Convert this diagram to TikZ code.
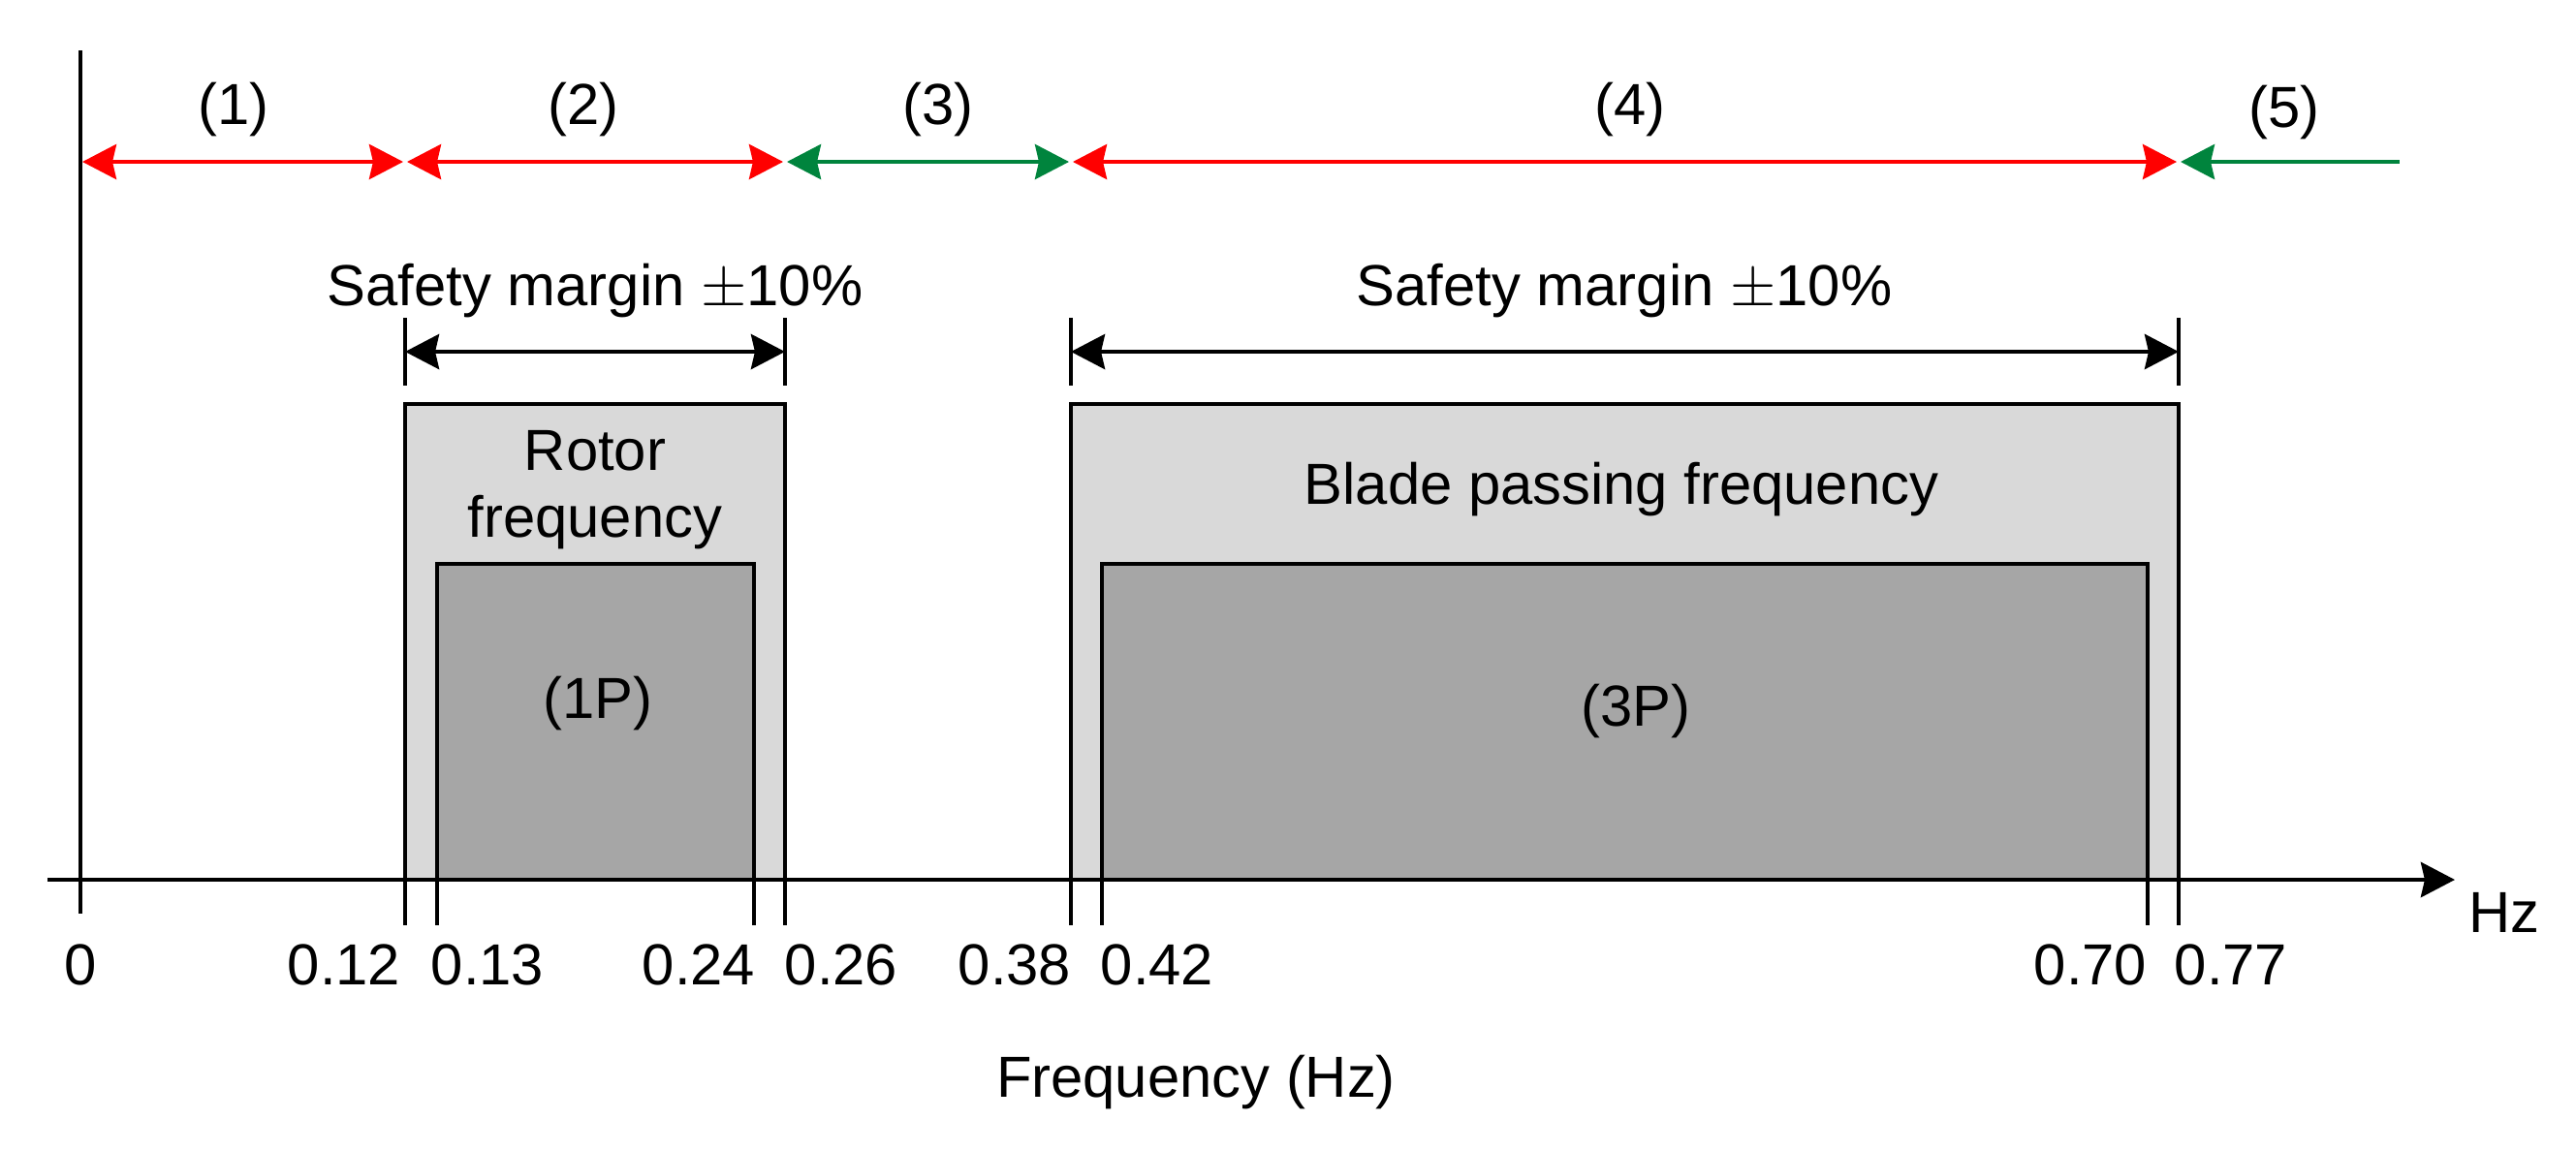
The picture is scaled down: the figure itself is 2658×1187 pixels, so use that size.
\documentclass[tikz,border=0pt]{standalone}
\usepackage{fontspec}
\setmainfont{Liberation Sans}
\usetikzlibrary{positioning,arrows.meta}
\definecolor{bandred}{RGB}{255,0,0}
\definecolor{bandgreen}{RGB}{0,132,61}
\definecolor{marginfill}{RGB}{217,217,217}
\definecolor{corefill}{RGB}{166,166,166}
\tikzset{
  band/.style={line width=1.2pt,<->,shorten <=0.02cm,shorten >=0.02cm},
  dimline/.style={line width=1.3pt,<->},
  ticklin/.style={line width=0.9pt},
  marginbox/.style={draw=black,line width=1pt,fill=marginfill},
  corebox/.style={draw=black,line width=1pt,fill=corefill},
  lbl/.style={font=\fontsize{17}{19.6}\selectfont,inner sep=0pt}
}
\begin{document}
\begin{tikzpicture}[x=0.01cm,y=-0.01cm,line width=1pt,>={Stealth[length=0.35cm,width=0.36cm,inset=0.04cm]}]
	\useasboundingbox (0,0) rectangle (2658,1187);

		% the frequency marks on the axis
		\coordinate (t000) at (83,908);
		\coordinate (t012) at (418,908);
		\coordinate (t013) at (451,908);
		\coordinate (t024) at (778,908);
		\coordinate (t026) at (810,908);
		\coordinate (t038) at (1105,908);
		\coordinate (t042) at (1137,908);
		\coordinate (t070) at (2216,908);
		\coordinate (t077) at (2248,908);

		% the levels
		\coordinate (row) at (0,167);
		\coordinate (dimrow) at (0,363);
		\coordinate (dimtop) at (0,328);
		\coordinate (dimbot) at (0,398);
		\coordinate (outertop) at (0,417);
		\coordinate (innertop) at (0,582);
		\coordinate (tickend) at (0,955);

		% rotor frequency band with its margin
		\draw[marginbox] (t012) rectangle (t026 |- outertop);
		\draw[corebox] (t013) rectangle (t024 |- innertop);
		\node[lbl,align=center,anchor=base] (rotor) at (614,554) {Rotor\\frequency};
		\node[lbl] (onep) at (617,726) {(1P)};

		% blade passing frequency band with its margin
		\draw[marginbox] (t038) rectangle (t077 |- outertop);
		\draw[corebox] (t042) rectangle (t070 |- innertop);
		\node[lbl,anchor=base] (blade) at (1673,520) {Blade passing frequency};
		\node[lbl] (threep) at (1688,734) {(3P)};

		% the axes
		\coordinate (xstart) at (49,908);
		\coordinate (xend) at (2533,908);
		\coordinate (ytop) at (83,52);
		\coordinate (ybot) at (83,943);
		\draw[->,line width=1.4pt] (xstart) -- (xend);
		\draw[ticklin] (ytop) -- (ybot);
		\node[lbl,below right=0.12cm and 0.13cm of xend] (hz) {Hz};

		% ticks below the axis
		\draw[ticklin] (t012) -- (t012 |- tickend);
		\draw[ticklin] (t013) -- (t013 |- tickend);
		\draw[ticklin] (t024) -- (t024 |- tickend);
		\draw[ticklin] (t026) -- (t026 |- tickend);
		\draw[ticklin] (t038) -- (t038 |- tickend);
		\draw[ticklin] (t042) -- (t042 |- tickend);
		\draw[ticklin] (t070) -- (t070 |- tickend);
		\draw[ticklin] (t077) -- (t077 |- tickend);

		% tick values
		\node[lbl] (v000) at (83,996) {0};
		\node[lbl] (v012) at (355,996) {0.12};
		\node[lbl] (v013) at (503,996) {0.13};
		\node[lbl] (v024) at (721,996) {0.24};
		\node[lbl] (v026) at (868,996) {0.26};
		\node[lbl] (v038) at (1047,996) {0.38};
		\node[lbl] (v042) at (1194,996) {0.42};
		\node[lbl] (v070) at (2157,996) {0.70};
		\node[lbl] (v077) at (2302,996) {0.77};
		\node[lbl,anchor=base] (xlabel) at (1234,1132) {Frequency (Hz)};

		% safety margins
		\draw[ticklin] (t012 |- dimtop) -- (t012 |- dimbot);
		\draw[ticklin] (t026 |- dimtop) -- (t026 |- dimbot);
		\draw[dimline] (t012 |- dimrow) -- (t026 |- dimrow);
		\node[lbl,anchor=base] (margina) at (614,315) {Safety margin $\pm$10\%};
		\draw[ticklin] (t038 |- dimtop) -- (t038 |- dimbot);
		\draw[ticklin] (t077 |- dimtop) -- (t077 |- dimbot);
		\draw[dimline] (t038 |- dimrow) -- (t077 |- dimrow);
		\node[lbl,anchor=base] (marginb) at (1676,315) {Safety margin $\pm$10\%};

		% the frequency ranges on top
		\coordinate (bend) at (2478,167);
		\draw[band,bandred] (t000 |- row) -- (t012 |- row);
		\draw[band,bandred] (t012 |- row) -- (t026 |- row);
		\draw[band,bandgreen] (t026 |- row) -- (t038 |- row);
		\draw[band,bandred] (t038 |- row) -- (t077 |- row);
		\draw[band,bandgreen,<-] (t077 |- row) -- (bend);
		\node[lbl] (r1) at (241,113) {(1)};
		\node[lbl] (r2) at (602,113) {(2)};
		\node[lbl] (r3) at (968,113) {(3)};
		\node[lbl] (r4) at (1682,113) {(4)};
		\node[lbl] (r5) at (2357,116) {(5)};

\end{tikzpicture}
\end{document}
